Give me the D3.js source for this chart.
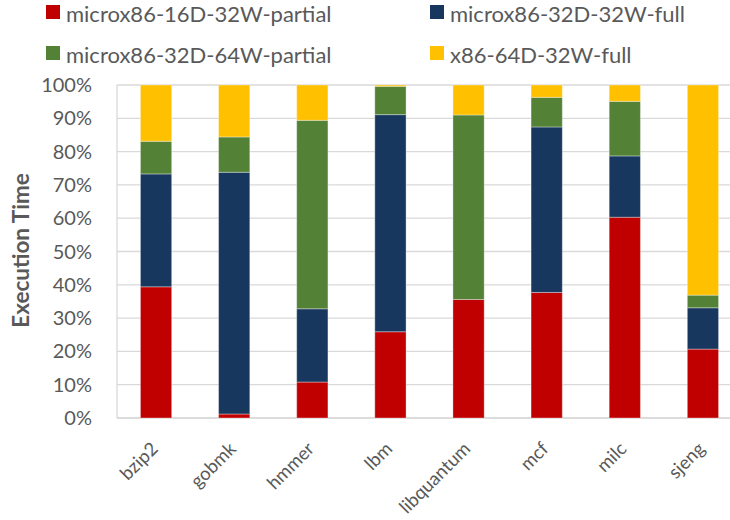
<!DOCTYPE html>
<html>
<head>
<meta charset="utf-8">
<script src="https://cdn.jsdelivr.net/npm/d3@7"></script>
<style>
  html, body { margin: 0; padding: 0; background: #fff; }
  svg { display: block; font-family: Lato, "Open Sans", sans-serif; }
</style>
</head>
<body>
<svg id="chart" width="730" height="520"></svg>
<script>
// Benchmarks on the x axis
const categories = ["bzip2", "gobmk", "hmmer", "lbm", "libquantum", "mcf", "milc", "sjeng"];

// Share of execution time (%) per configuration
const seriesNames = ["microx86-16D-32W-partial", "microx86-32D-32W-full", "microx86-32D-64W-partial", "x86-64D-32W-full"];
const partial16D32W = [39.4, 1.2, 10.8, 25.9, 35.6, 37.7, 60.3, 20.7];
const full32D32W    = [33.9, 72.6, 22.0, 65.2, 0.0, 49.7, 18.4, 12.4];
const partial32D64W = [9.8, 10.6, 56.6, 8.5, 55.4, 8.9, 16.4, 3.8];
const full64D32W    = [16.9, 15.6, 10.6, 0.4, 9.0, 3.7, 4.9, 63.1];

const seriesColors = ["#C00000", "#17375E", "#538135", "#FFC000"];
const yTicks = [0, 10, 20, 30, 40, 50, 60, 70, 80, 90, 100];

const seriesValues = [partial16D32W, full32D32W, partial32D64W, full64D32W];
const rows = categories.map((c, i) => {
  const r = { cat: c };
  seriesNames.forEach((s, k) => { r[s] = seriesValues[k][i]; });
  return r;
});
const stacked = d3.stack().keys(seriesNames)(rows);

const svg = d3.select("#chart");
const x = d3.scaleBand().domain(categories).range([117, 742]).paddingInner(0.6).paddingOuter(0.3);
const y = d3.scaleLinear().domain([0, 100]).range([418, 85]);

// gridlines
svg.append("g").selectAll("line").data(yTicks.filter(t => t > 0)).join("line")
  .attr("x1", 117).attr("x2", 742)
  .attr("y1", d => y(d)).attr("y2", d => y(d))
  .attr("stroke", "#D9D9D9").attr("stroke-width", 1.3);

// left axis line and baseline
svg.append("line").attr("x1", 117).attr("x2", 117).attr("y1", y(100)).attr("y2", y(0))
  .attr("stroke", "#D9D9D9").attr("stroke-width", 1.3);
svg.append("line").attr("x1", 117).attr("x2", 742).attr("y1", y(0)).attr("y2", y(0))
  .attr("stroke", "#D0D0D0").attr("stroke-width", 1.5);

// y tick labels
svg.append("g").selectAll("text").data(yTicks).join("text")
  .attr("x", 92).attr("y", d => y(d) + 2)
  .attr("text-anchor", "end").attr("dominant-baseline", "middle")
  .attr("fill", "#595959").attr("font-size", 20)
  .text(d => d + "%");

// stacked bars
svg.append("g").selectAll("g").data(stacked).join("g")
  .attr("fill", (d, i) => seriesColors[i])
  .selectAll("rect").data(d => d).join("rect")
  .attr("x", d => x(d.data.cat))
  .attr("width", x.bandwidth())
  .attr("y", d => y(d[1]))
  .attr("height", d => Math.max(0, y(d[0]) - y(d[1])))
  .attr("stroke", "rgba(255,255,255,0.35)").attr("stroke-width", 1);

// x labels, rotated
svg.append("g").selectAll("text").data(categories).join("text")
  .attr("transform", d => `translate(${x(d) + x.bandwidth() / 2 + 3},${450}) rotate(-45)`)
  .attr("text-anchor", "end")
  .attr("fill", "#595959").attr("font-size", 18.5)
  .text(d => d);

// y axis title
svg.append("text")
  .attr("transform", `translate(28.5,250.5) rotate(-90)`)
  .attr("text-anchor", "middle")
  .attr("fill", "#595959").attr("font-size", 22.5).attr("font-weight", "bold")
  .text("Execution Time");

// legend
const legendPos = [[46, 5], [430, 5], [46, 46], [430, 46]];
const lg = svg.append("g").selectAll("g").data(seriesNames).join("g")
  .attr("transform", (d, i) => `translate(${legendPos[i][0]},${legendPos[i][1]})`);
lg.append("rect").attr("width", 14).attr("height", 14).attr("fill", (d, i) => seriesColors[i]);
lg.append("text").attr("x", 20).attr("y", 16.5).attr("fill", "#595959")
  .attr("font-size", 22).text(d => d);
</script>
</body>
</html>
